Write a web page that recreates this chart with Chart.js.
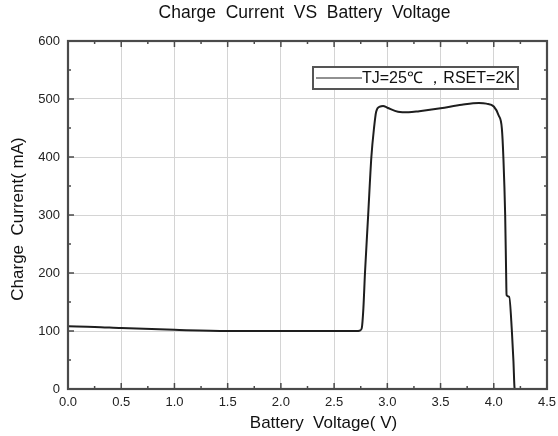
<!DOCTYPE html>
<html><head><meta charset="utf-8">
<script src="https://cdn.jsdelivr.net/npm/chart.js@4/dist/chart.umd.min.js"></script>
<style>html,body{margin:0;padding:0;background:#fff}#wrap{width:558px;height:436px}</style>
</head><body><div id="wrap"><canvas id="c" width="558" height="436"></canvas></div>
<script>
const voltage = [0, 0.25, 0.5, 1.0, 1.5, 2.0, 2.5, 2.71, 2.745, 2.76, 2.775, 2.79, 2.82, 2.85, 2.875, 2.895, 2.93, 2.96, 3.0, 3.1, 3.2, 3.3, 3.5, 3.7, 3.86, 3.93, 4.0, 4.045, 4.076, 4.09, 4.107, 4.116, 4.12, 4.145, 4.17, 4.185, 4.195, 4.2];
const current = [108, 107, 105, 102, 100, 100, 100, 100, 101, 105, 139, 200, 300, 400, 450, 478, 487, 488, 485, 478, 477, 479, 484, 490, 493, 492, 487, 472, 449, 400, 300, 200, 162, 159, 100, 47, 2, 0];
const xTicks = [0, 0.5, 1.0, 1.5, 2.0, 2.5, 3.0, 3.5, 4.0, 4.5];
const yTicks = [0, 100, 200, 300, 400, 500, 600];
const legendLabel = "TJ=25\u2103 \uFF0CRSET=2K";
const chartTitle = 'Charge  Current  VS  Battery  Voltage';
const xTitle = 'Battery  Voltage( V)';
const yTitle = 'Charge  Current( mA)';
const FONT = "'Liberation Sans', Arial, sans-serif";

const decorations = {
  id: 'decorations',
  afterDatasetsDraw(chart) {
    const {ctx, chartArea: a, scales: {x, y}} = chart;
    ctx.save();
    ctx.strokeStyle = '#4a4a4a';
    ctx.lineWidth = 1.5;
    for (let v = 0; v <= 4.5001; v += 0.25) {
      const px = x.getPixelForValue(v);
      const major = Math.abs(v * 2 - Math.round(v * 2)) < 1e-6;
      const L = major ? 6 : 3;
      ctx.beginPath(); ctx.moveTo(px, a.bottom); ctx.lineTo(px, a.bottom - L); ctx.stroke();
      ctx.beginPath(); ctx.moveTo(px, a.top); ctx.lineTo(px, a.top + L); ctx.stroke();
    }
    for (let v = 0; v <= 600; v += 50) {
      const py = y.getPixelForValue(v);
      const L = (v % 100 === 0) ? 6 : 3;
      ctx.beginPath(); ctx.moveTo(a.left, py); ctx.lineTo(a.left + L, py); ctx.stroke();
      ctx.beginPath(); ctx.moveTo(a.right, py); ctx.lineTo(a.right - L, py); ctx.stroke();
    }
    ctx.lineWidth = 2.2;
    ctx.strokeRect(a.left, a.top, a.right - a.left, a.bottom - a.top);
    // legend box
    const bx = a.left + 245, by = a.top + 26, bw = 205, bh = 22;
    ctx.fillStyle = '#fff';
    ctx.fillRect(bx, by, bw, bh);
    ctx.lineWidth = 2;
    ctx.strokeStyle = '#555';
    ctx.strokeRect(bx, by, bw, bh);
    ctx.strokeStyle = '#222';
    ctx.lineWidth = 1;
    ctx.beginPath(); ctx.moveTo(bx + 3, by + 11); ctx.lineTo(bx + 49, by + 11); ctx.stroke();
    ctx.fillStyle = '#111';
    ctx.font = '16px ' + FONT;
    ctx.textBaseline = 'middle';
    ctx.textAlign = 'left';
    ctx.fillText(legendLabel, bx + 49, by + 12);
    // titles
    ctx.textAlign = 'center';
    ctx.font = '17.5px ' + FONT;
    ctx.fillText(chartTitle, (a.left + a.right) / 2 - 3, 13);
    ctx.font = '17px ' + FONT;
    ctx.fillText(xTitle, (a.left + a.right) / 2 + 16, 423);
    ctx.save();
    ctx.translate(18, (a.top + a.bottom) / 2 + 4);
    ctx.rotate(-Math.PI / 2);
    ctx.fillText(yTitle, 0, 0);
    ctx.restore();
    ctx.restore();
  }
};

new Chart(document.getElementById('c'), {
  type: 'line',
  data: {
    datasets: [{
      label: legendLabel,
      data: voltage.map((v, i) => ({x: v, y: current[i]})),
      borderColor: '#1e1e1e',
      borderWidth: 2,
      pointRadius: 0,
      fill: false,
      cubicInterpolationMode: 'monotone'
    }]
  },
  options: {
    responsive: false,
    animation: false,
    devicePixelRatio: 1,
    layout: {padding: {left: 0, right: 11, top: 41, bottom: 0}},
    plugins: {
      legend: {display: false},
      tooltip: {enabled: false},
      title: {display: false}
    },
    scales: {
      x: {
        type: 'linear', min: 0, max: 4.5,
        afterBuildTicks: s => { s.ticks = xTicks.map(v => ({value: v})); },
        afterFit: s => { s.height = 47; s.paddingLeft = 0; s.paddingRight = 0; },
        ticks: {color: '#222', font: {family: FONT, size: 13}, padding: 6, maxRotation: 0,
                callback: v => v.toFixed(1)},
        grid: {color: '#d4d4d4', lineWidth: 1, drawTicks: false},
        border: {display: false}
      },
      y: {
        type: 'linear', min: 0, max: 600,
        afterBuildTicks: s => { s.ticks = yTicks.map(v => ({value: v})); },
        afterFit: s => { s.width = 68; s.paddingTop = 0; s.paddingBottom = 0; },
        ticks: {color: '#222', font: {family: FONT, size: 13}, padding: 8},
        grid: {color: '#d4d4d4', lineWidth: 1, drawTicks: false},
        border: {display: false}
      }
    }
  },
  plugins: [decorations]
});
</script></body></html>
